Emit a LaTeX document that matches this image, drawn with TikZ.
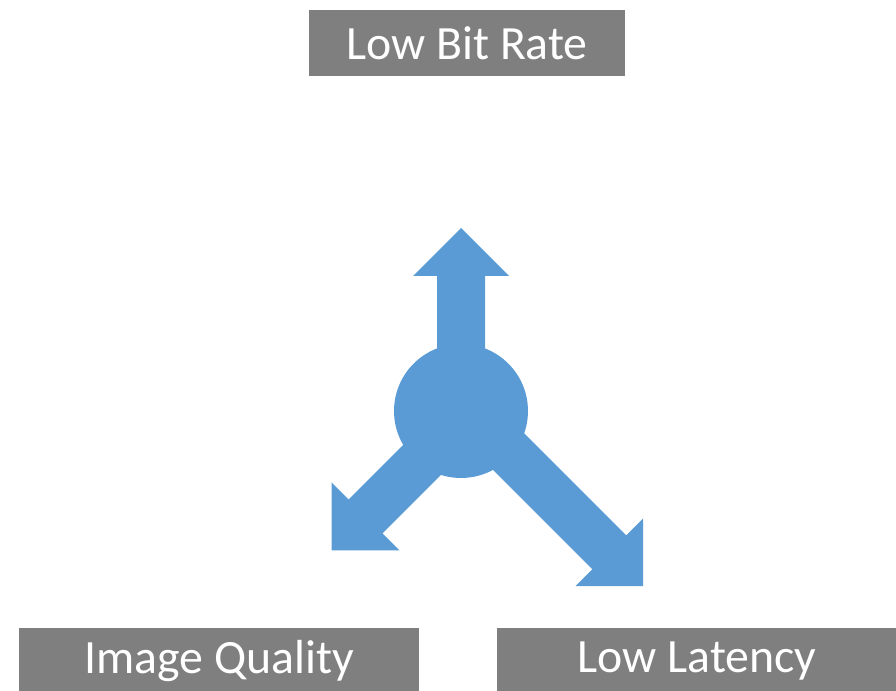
\documentclass[tikz,border=0pt]{standalone}
\usepackage{fontspec}
\setmainfont{Carlito}
\usepackage{tikz}
\usetikzlibrary{
  calc,%
  positioning
}
\definecolor{goalgray}{HTML}{7F7F7F}
\definecolor{hubblue}{HTML}{5B9BD5}
\tikzset{goal/.style={fill=goalgray, text=white, inner sep=0pt,
    minimum height=1.32cm, font=\fontsize{27.2}{32}\selectfont}}
\tikzset{hubdisc/.style={circle, fill=hubblue, inner sep=0pt, minimum size=2.68cm}}

\begin{document}
\begin{tikzpicture}[x=0.02cm, y=0.02cm]
          \useasboundingbox (0, 0) rectangle (896, 690); %
          \clip (0, 0) rectangle (896, 690); %
          % the three goals
          \node[goal, minimum width=6.32cm] (bitrate) at (467, 647) {Low Bit Rate}; %
          \node[goal, minimum width=8cm] (quality) at (219, 29) {Image Quality}; %
          \node[goal, minimum width=8cm] (latency) at (697, 29) {Low Latency}; %
          % the hub and its block arrows
          \node[hubdisc] (hub) at (461, 279) {}; %
          \foreach \ang/\len/\dx/\dy in {90/183/0/0, 225/190/5/-5, -45/252/4/3}{
            \begin{scope}[shift={(hub.center)}, shift={(\dx, \dy)}, rotate=\ang]
              \fill[hubblue] (0, 24) -- (\len-48, 24) -- (\len-48, 48) -- (\len, 0)
                -- (\len-48, -48) -- (\len-48, -24) -- (0, -24) -- cycle; %
            \end{scope}
          }
        \end{tikzpicture}
\end{document}
